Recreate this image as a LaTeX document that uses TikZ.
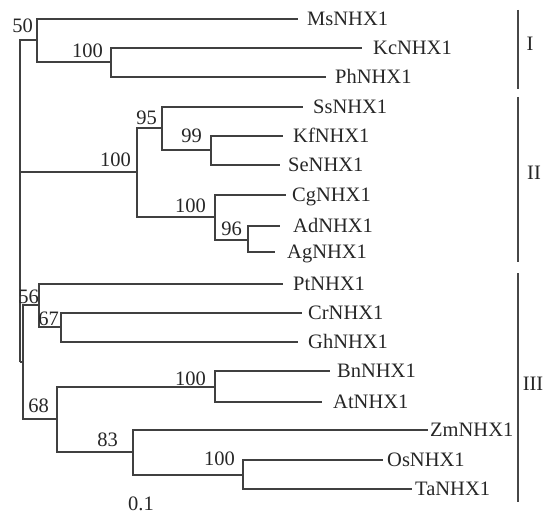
\documentclass[tikz,border=0pt]{standalone}
\usepackage{fontspec}
\setmainfont{Liberation Serif}
\begin{document}
\begin{tikzpicture}[x=1pt,y=-1pt,
  branch/.style={draw=black!75, line width=2pt, line join=miter},
  cladebar/.style={draw=black!72, line width=2.2pt},
  txt/.style={inner sep=0pt, text=black!85, font=\fontsize{20.5}{24}\selectfont},
  leaf/.style={txt, anchor=base west},
  boot/.style={txt, anchor=base east},
  group/.style={txt, anchor=base}]
\useasboundingbox (0,0) rectangle (545,518);

% internal nodes (x of the vertical line, y of the stem)
\coordinate (root) at (20,362);
\coordinate (nI)   at (37,40);
\coordinate (nKP)  at (111,62);
\coordinate (nII)  at (137,172);
\coordinate (n95)  at (162,128);
\coordinate (n99)  at (211,150);
\coordinate (nCg)  at (215,217);
\coordinate (n96)  at (248,240);
\coordinate (nIII) at (22.5,362);
\coordinate (n56)  at (39,305);
\coordinate (n67)  at (61,327);
\coordinate (n68)  at (57,419);
\coordinate (nBA)  at (215,387);
\coordinate (n83)  at (133,452);
\coordinate (nOT)  at (243,475);

% leaf tips
\coordinate (tMs) at (298,19);
\coordinate (tKc) at (362,48);
\coordinate (tPh) at (326,77);
\coordinate (tSs) at (303,107);
\coordinate (tKf) at (283,136);
\coordinate (tSe) at (280,165);
\coordinate (tCg) at (286,195);
\coordinate (tAd) at (280,226);
\coordinate (tAg) at (275,252);
\coordinate (tPt) at (283,284);
\coordinate (tCr) at (302,313);
\coordinate (tGh) at (298,342);
\coordinate (tBn) at (330,371);
\coordinate (tAt) at (322,402);
\coordinate (tZm) at (428,430);
\coordinate (tOs) at (383,460);
\coordinate (tTa) at (412,489);

% branches
\draw[branch] (root) |- (nI);
\draw[branch] (root) |- (nII);
\draw[branch] (root) |- (nIII);
\draw[branch] (nI) |- (tMs);
\draw[branch] (nI) |- (nKP);
\draw[branch] (nKP) |- (tKc);
\draw[branch] (nKP) |- (tPh);
\draw[branch] (nII) |- (n95);
\draw[branch] (nII) |- (nCg);
\draw[branch] (n95) |- (tSs);
\draw[branch] (n95) |- (n99);
\draw[branch] (n99) |- (tKf);
\draw[branch] (n99) |- (tSe);
\draw[branch] (nCg) |- (tCg);
\draw[branch] (nCg) |- (n96);
\draw[branch] (n96) |- (tAd);
\draw[branch] (n96) |- (tAg);
\draw[branch] (nIII) |- (n56);
\draw[branch] (nIII) |- (n68);
\draw[branch] (n56) |- (tPt);
\draw[branch] (n56) |- (n67);
\draw[branch] (n67) |- (tCr);
\draw[branch] (n67) |- (tGh);
\draw[branch] (n68) |- (nBA);
\draw[branch] (n68) |- (n83);
\draw[branch] (nBA) |- (tBn);
\draw[branch] (nBA) |- (tAt);
\draw[branch] (n83) |- (tZm);
\draw[branch] (n83) |- (nOT);
\draw[branch] (nOT) |- (tOs);
\draw[branch] (nOT) |- (tTa);

% leaf labels
\node[leaf] (lMs) at (307,25.5)  {MsNHX1};
\node[leaf] (lKc) at (373,54.5)  {KcNHX1};
\node[leaf] (lPh) at (335,83.5)  {PhNHX1};
\node[leaf] (lSs) at (313,113.5) {SsNHX1};
\node[leaf] (lKf) at (293,142.5) {KfNHX1};
\node[leaf] (lSe) at (288,171.5) {SeNHX1};
\node[leaf] (lCg) at (292,201.5) {CgNHX1};
\node[leaf] (lAd) at (293,232.5) {AdNHX1};
\node[leaf] (lAg) at (287,258.5) {AgNHX1};
\node[leaf] (lPt) at (293,290.5) {PtNHX1};
\node[leaf] (lCr) at (308,319.5) {CrNHX1};
\node[leaf] (lGh) at (308,348.5) {GhNHX1};
\node[leaf] (lBn) at (337,377.5) {BnNHX1};
\node[leaf] (lAt) at (333,408.5) {AtNHX1};
\node[leaf] (lZm) at (430,436.5) {ZmNHX1};
\node[leaf] (lOs) at (387,466.5) {OsNHX1};
\node[leaf] (lTa) at (415,495.5) {TaNHX1};

% bootstrap values
\node[boot] (b50)   at (33,33)   {50};
\node[boot] (bKP)   at (103,58)  {100};
\node[boot] (b95)   at (157,125) {95};
\node[boot] (b99)   at (202,143) {99};
\node[boot] (bII)   at (131,167) {100};
\node[boot] (bCg)   at (206,213) {100};
\node[boot] (b96)   at (242,236) {96};
\node[boot] (b56)   at (39,303)  {56};
\node[boot] (b67)   at (59,325)  {67};
\node[boot] (b68)   at (49,412)  {68};
\node[boot] (bBA)   at (206,385) {100};
\node[boot] (b83)   at (118,446) {83};
\node[boot] (bOT)   at (235,465) {100};

% scale value
\node[leaf] (scale) at (128,510) {0.1};

% clade brackets
\coordinate (gIa)   at (518,10);
\coordinate (gIb)   at (518,89);
\coordinate (gIIa)  at (518,97);
\coordinate (gIIb)  at (518,262);
\coordinate (gIIIa) at (518,273);
\coordinate (gIIIb) at (518,502);
\draw[cladebar] (gIa) -- (gIb);
\draw[cladebar] (gIIa) -- (gIIb);
\draw[cladebar] (gIIIa) -- (gIIIb);
\node[group] (cI)   at (530,51)  {I};
\node[group] (cII)  at (534,180) {II};
\node[group] (cIII) at (533,390) {III};
\end{tikzpicture}
\end{document}
